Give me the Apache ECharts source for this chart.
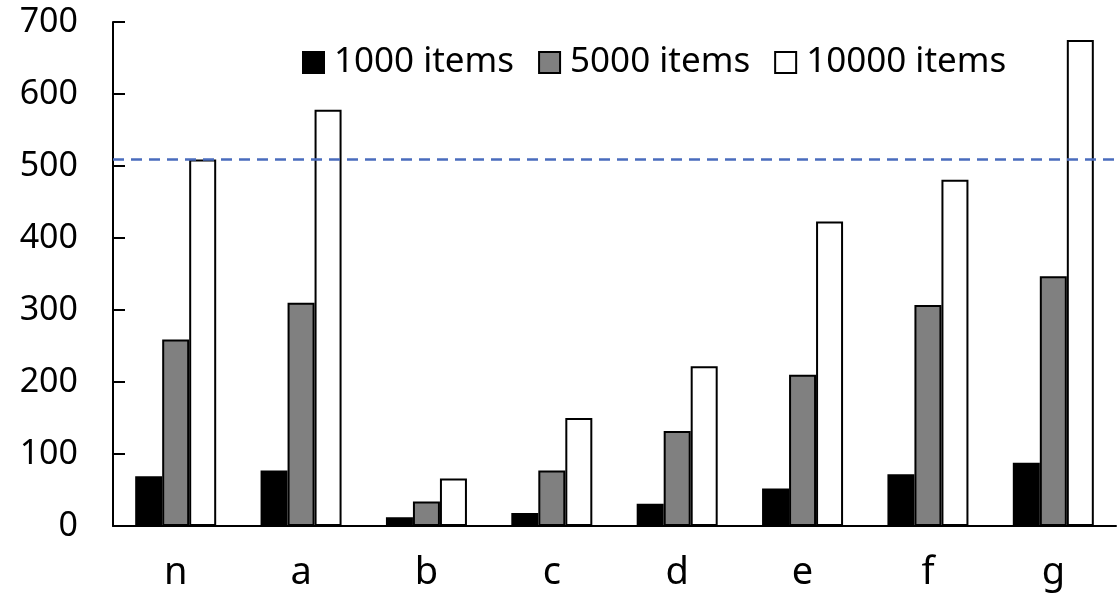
<!DOCTYPE html>
<html>
<head>
<meta charset="utf-8">
<script src="https://cdn.jsdelivr.net/npm/echarts@6/dist/echarts.min.js"></script>
<style>
  html, body { margin: 0; padding: 0; background: #fff; }
  #chart { width: 1120px; height: 594px; }
</style>
</head>
<body>
<div id="chart"></div>
<script>
// Categories along the x axis
const categories = ['n', 'a', 'b', 'c', 'd', 'e', 'f', 'g'];

// Series names
const seriesNames = ['1000 items', '5000 items', '10000 items'];

// Values per category for each item count
const items1000 = [69, 77, 12, 18, 31, 52, 72, 88];
const items5000 = [259, 310, 34, 77, 132, 210, 307, 347];
const items10000 = [509, 578, 66, 150, 222, 423, 481, 675];

// Y axis range
const yMin = 0;
const yMax = 700;
const yStep = 100;

// Reference level: the 10000-item value of the first category
const referenceLevel = items10000[0];

const FONT = 'Noto Sans';

const chart = echarts.init(document.getElementById('chart'), null, { renderer: 'canvas' });

const barBase = {
  type: 'bar',
  barWidth: 27,
  barGap: '0%',
  emphasis: { disabled: true }
};

chart.setOption({
  animation: false,
  backgroundColor: '#fff',
  textStyle: { fontFamily: FONT, color: '#000' },
  grid: { left: 113, right: 4, top: 22, bottom: 68, containLabel: false },
  legend: {
    data: seriesNames,
    left: 297,
    top: 40,
    itemWidth: 21,
    itemHeight: 21,
    itemGap: 24,
    icon: 'rect',
    textStyle: { fontFamily: FONT, fontSize: 35, color: '#000', padding: [0, 0, 0, 5] },
    selectedMode: false
  },
  xAxis: {
    type: 'category',
    data: categories,
    axisLine: { lineStyle: { color: '#000', width: 2 } },
    axisTick: { show: false },
    axisLabel: { fontFamily: FONT, fontSize: 38, color: '#000', margin: 28 },
    splitLine: { show: false }
  },
  yAxis: {
    type: 'value',
    min: yMin,
    max: yMax,
    interval: yStep,
    axisLine: { show: true, lineStyle: { color: '#000', width: 2 } },
    axisTick: { show: true, inside: true, length: 12, lineStyle: { color: '#000', width: 2 } },
    axisLabel: { fontFamily: FONT, fontSize: 34, color: '#000', margin: 35 },
    splitLine: { show: false }
  },
  series: [
    Object.assign({}, barBase, {
      name: seriesNames[0],
      data: items1000,
      itemStyle: { color: '#000', borderColor: '#000', borderWidth: 2 }
    }),
    Object.assign({}, barBase, {
      name: seriesNames[1],
      data: items5000,
      itemStyle: { color: '#808080', borderColor: '#000', borderWidth: 2 }
    }),
    Object.assign({}, barBase, {
      name: seriesNames[2],
      data: items10000,
      itemStyle: { color: '#fff', borderColor: '#000', borderWidth: 2 },
      markLine: {
        silent: true,
        symbol: ['none', 'none'],
        label: { show: false },
        lineStyle: { color: '#4a6cbd', width: 2.5, type: [11, 7] },
        data: [{ yAxis: referenceLevel }]
      }
    })
  ]
});
</script>
</body>
</html>
